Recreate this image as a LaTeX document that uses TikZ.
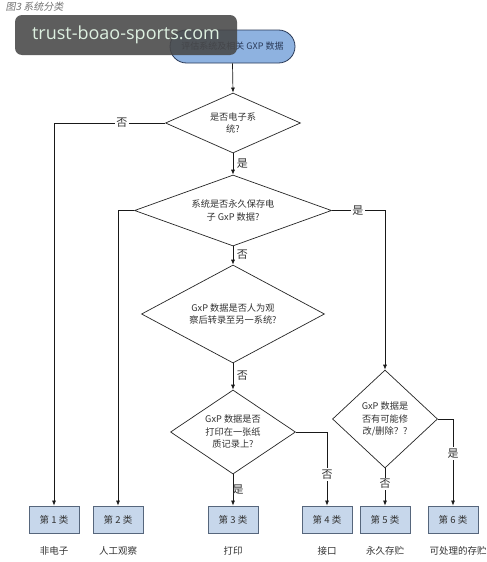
\documentclass[tikz,border=0pt]{standalone}
\usepackage{fontspec}
\setmainfont{Noto Sans CJK SC}
\newfontfamily\titlefont[FakeSlant=0.2]{Noto Sans CJK SC}
\newfontfamily\wmfont{Open Sans}
\usetikzlibrary{shapes.geometric,shapes.misc,arrows.meta}
\definecolor{startfill}{HTML}{8EB2E0}
\definecolor{startdraw}{HTML}{2A3A58}
\definecolor{boxfill}{HTML}{C7D7EB}
\definecolor{boxdraw}{HTML}{56667C}
\definecolor{wmtext}{HTML}{DDF0E0}
\begin{document}
\begin{tikzpicture}[x=1pt,y=-1pt,
  dia/.style={draw=black!85, line width=0.7pt, shape=diamond, inner sep=0pt, align=center,
    font=\fontsize{9.2}{12.5}\selectfont, text=black!80},
  catbox/.style={draw=boxdraw, fill=boxfill, line width=0.8pt, minimum width=50pt, minimum height=27pt,
    inner sep=0pt, font=\fontsize{9.5}{10}\selectfont, text=black!80},
  startnode/.style={draw=startdraw, fill=startfill, line width=0.8pt, rounded rectangle,
    minimum width=125pt, minimum height=33pt, inner sep=0pt, font=\fontsize{9}{10}\selectfont, text=startdraw},
  arr/.style={-{Latex[length=5pt,width=4pt]}, line width=0.7pt, draw=black!90},
  lbl/.style={font=\fontsize{11}{11}\selectfont, fill=white, inner sep=1.5pt, text=black!80},
  sublbl/.style={font=\fontsize{9.5}{10}\selectfont, text=black!80},
  wm/.style={fill=black!72, fill opacity=0.88, text opacity=1, rounded corners=7pt, minimum width=222pt,
    minimum height=40pt, inner sep=0pt, text=wmtext, font=\wmfont\fontsize{18}{18}\selectfont}
]
\useasboundingbox[fill=white] (0,0) rectangle (487,562);

\node[anchor=west, text=black!55, font=\titlefont\fontsize{10}{10}\selectfont] (title) at (2,7) {图3 系统分类};

\node[startnode] (s) at (232.5,46.5) {评估系统及相关 GXP 数据};

\node[dia, minimum width=135pt, minimum height=60pt, aspect=2.25] (d1) at (233,123) {是否电子系\\统?};
\node[dia, minimum width=197pt, minimum height=71pt, aspect=2.77] (d2) at (233,210.5) {系统是否永久保存电\\子 GxP 数据?};
\node[dia, minimum width=183pt, minimum height=98pt, aspect=1.87] (d3) at (233,314) {GxP 数据是否人为观\\察后转录至另一系统?};
\node[dia, minimum width=125pt, minimum height=84pt, aspect=1.49] (d4) at (233,432) {GxP 数据是否\\打印在一张纸\\质记录上?};
\node[dia, minimum width=105pt, minimum height=98pt, aspect=1.07] (d5) at (385,419) {GxP 数据是\\否有可能修\\改/删除？?};

\node[catbox] (b1) at (54,519.5) {第 1 类};
\node[catbox] (b2) at (118,519.5) {第 2 类};
\node[catbox] (b3) at (233,519.5) {第 3 类};
\node[catbox] (b4) at (327,519.5) {第 4 类};
\node[catbox] (b5) at (385,519.5) {第 5 类};
\node[catbox] (b6) at (453,519.5) {第 6 类};

\node[sublbl] (t1) at (54,551) {非电子};
\node[sublbl] (t2) at (118,551) {人工观察};
\node[sublbl] (t3) at (233,551) {打印};
\node[sublbl] (t4) at (327,551) {接口};
\node[sublbl] (t5) at (385,551) {永久存贮};
\node[sublbl] (t6) at (458,551) {可处理的存贮};

\draw[arr] (s.south) -- (d1.north);
\draw[arr] (d1.south) -- node[lbl, right, fill=none, xshift=2pt] {是} (d2.north);
\draw[arr] (d1.west) -| node[lbl, pos=0.195] {否} (b1.north);
\draw[arr] (d2.west) -| (b2.north);
\draw[arr] (d2.east) -| node[lbl, pos=0.245] {是} (d5.north);
\draw[arr] (d2.south) -- node[lbl, right, fill=none, xshift=2pt, pos=0.45] {否} (d3.north);
\draw[arr] (d3.south) -- node[lbl, right, fill=none, xshift=2pt, pos=0.45] {否} (d4.north);
\draw[arr] (d4.south) -- node[lbl, fill=none, pos=0.5, xshift=5pt] {是} (b3.north);
\draw[arr] (d4.east) -| node[lbl, pos=0.79] {否} (b4.north);
\draw[arr] (d5.south) -- node[lbl, pos=0.42] {否} (b5.north);
\draw[arr] (d5.east) -| node[lbl, pos=0.70] {是} (b6.north);

\node[wm] (w) at (126,35) {trust-boao-sports.com};
\end{tikzpicture}
\end{document}
